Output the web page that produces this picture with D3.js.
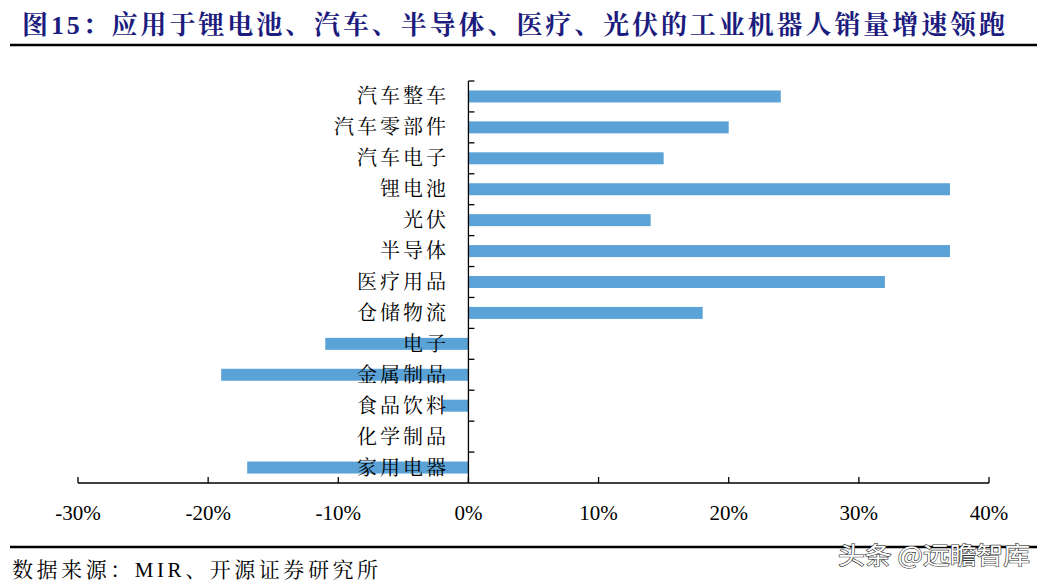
<!DOCTYPE html>
<html><head><meta charset="utf-8">
<script src="https://cdn.jsdelivr.net/npm/d3@7"></script>
<style>body{margin:0;background:#fff;}svg{display:block;}</style>
</head><body>
<script>
const categories = ["汽车整车","汽车零部件","汽车电子","锂电池","光伏","半导体","医疗用品","仓储物流","电子","金属制品","食品饮料","化学制品","家用电器"];
const values = [24,20,15,37,14,37,32,18,-11,-19,-2,0,-17];
const xTicks = [-30,-20,-10,0,10,20,30,40];
const title = "图15：应用于锂电池、汽车、半导体、医疗、光伏的工业机器人销量增速领跑";
const source = "数据来源：MIR、开源证券研究所";
const watermark = "头条 @远瞻智库";

const W=1050,H=588;
const svg=d3.select("body").append("svg").attr("width",W).attr("height",H);
const cjkSerif = "'Noto Serif CJK SC','Noto Sans CJK SC',serif";
const latinSerif = "'Liberation Serif','Times New Roman',serif";

svg.append("text").attr("x",22).attr("y",34).attr("font-family",latinSerif+","+cjkSerif)
  .attr("font-weight","bold").attr("font-size",26).attr("fill","#1c1c7e")
  .attr("textLength",983).attr("lengthAdjust","spacing").text(title);
svg.append("line").attr("x1",10).attr("x2",1037).attr("y1",45).attr("y2",45).attr("stroke","#000").attr("stroke-width",2.5);

const x=d3.scaleLinear().domain([-30,40]).range([78,989]);
const step=(483-81)/categories.length;
const yc=i=>81+i*step+step/2;

// bars
svg.append("g").selectAll("rect").data(values).join("rect")
  .attr("x",v=>x(Math.min(0,v)))
  .attr("width",v=>Math.abs(x(v)-x(0)))
  .attr("y",(v,i)=>yc(i)-6)
  .attr("height",12).attr("fill","#5ba3d6");

// y axis
const ya=svg.append("g");
ya.append("line").attr("x1",x(0)).attr("x2",x(0)).attr("y1",81).attr("y2",483).attr("stroke","#000").attr("stroke-width",1.3);
ya.selectAll("line.t").data(d3.range(categories.length)).join("line").attr("class","t")
  .attr("x1",x(0)).attr("x2",x(0)+6).attr("y1",i=>81+i*step).attr("y2",i=>81+i*step)
  .attr("stroke","#000").attr("stroke-width",1.3);

// x axis
const xa=svg.append("g");
xa.append("line").attr("x1",x(-30)).attr("x2",x(40)).attr("y1",483).attr("y2",483).attr("stroke","#000").attr("stroke-width",1.3);
xa.selectAll("line.t").data(xTicks).join("line").attr("class","t")
  .attr("x1",d=>x(d)).attr("x2",d=>x(d)).attr("y1",477).attr("y2",483).attr("stroke","#000").attr("stroke-width",1.3);
xa.selectAll("text").data(xTicks).join("text").attr("x",d=>x(d)).attr("y",520)
  .attr("text-anchor","middle").attr("font-family",latinSerif).attr("font-size",21).attr("fill","#000")
  .text(d=>d+"%");

// category labels
svg.append("g").selectAll("text").data(categories).join("text")
  .attr("x",449).attr("y",(d,i)=>yc(i)+7)
  .attr("text-anchor","end").attr("font-family",cjkSerif).attr("font-size",20)
  .attr("letter-spacing",3).attr("fill","#000").text(d=>d);

// footer
svg.append("line").attr("x1",10).attr("x2",1037).attr("y1",547).attr("y2",547).attr("stroke","#000").attr("stroke-width",2.5);
svg.append("text").attr("x",12).attr("y",577).attr("font-family",latinSerif+","+cjkSerif).attr("font-size",21).attr("fill","#000")
  .attr("textLength",366).attr("lengthAdjust","spacing").text(source);
svg.append("text").attr("x",838).attr("y",564).attr("font-family","'Noto Sans CJK SC',sans-serif")
  .attr("font-size",24).attr("fill","#fff").attr("stroke","#333").attr("stroke-width",1.2).attr("paint-order","stroke")
  .attr("textLength",192).attr("lengthAdjust","spacingAndGlyphs").text(watermark);
</script>
</body></html>
